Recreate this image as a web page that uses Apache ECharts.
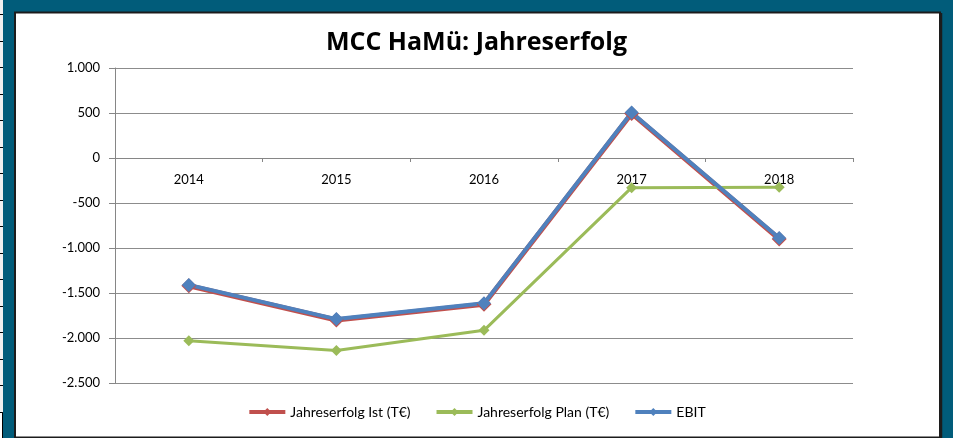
<!DOCTYPE html>
<html lang="de">
<head>
    <meta charset="UTF-8">
    <title>MCC HaMü: Jahreserfolg</title>
    <style type="text/css">
        *{ margin: 0; padding: 0; }
        #main{ width: 953px; height: 438px; }
    </style>
</head>
<body>
    <div id="main"></div>
    <script src="https://cdn.jsdelivr.net/npm/echarts@6/dist/echarts.min.js"></script>
    <script type="text/javascript">
        // Daten
        var years = ['2014', '2015', '2016', '2017', '2018'];
        var istValues = [-1420, -1800, -1625, 495, -900];
        var planValues = [-2030, -2140, -1915, -330, -325];
        var ebitValues = [-1410, -1790, -1615, 505, -890];

        var FONT = 'Lato, "Open Sans", sans-serif';

        // 1.000 / -1.500 Schreibweise
        function fmt(v) {
            var s = String(Math.abs(v));
            s = s.replace(/\B(?=(\d{3})+(?!\d))/g, '.');
            return (v < 0 ? '-' : '') + s;
        }

        // Zeilenkoepfe links (Excel-Rand)
        var deco = [
            { type: 'rect', shape: { x: 0, y: 0, width: 3, height: 438 }, style: { fill: '#f0f0f0' }, z: 0 }
        ];
        for (var yy = 14; yy < 412; yy += 26.5) {
            deco.push({ type: 'line', shape: { x1: 0, y1: Math.round(yy) + 0.5, x2: 3, y2: Math.round(yy) + 0.5 }, style: { stroke: '#000', lineWidth: 1 }, z: 1 });
        }
        deco.push({ type: 'rect', shape: { x: -1, y: 412.5, width: 3.5, height: 30 }, style: { fill: '#fff', stroke: '#000', lineWidth: 1 }, z: 1 });
        // Diagrammflaeche
        deco.push({ type: 'rect', shape: { x: 15, y: 12.5, width: 925, height: 425 }, style: { fill: '#ffffff', stroke: '#1c1c1c', lineWidth: 2 }, z: 0 });
        deco.push({ type: 'line', shape: { x1: 941.5, y1: 13, x2: 941.5, y2: 438 }, style: { stroke: '#1c1c1c', lineWidth: 1.5 }, z: 0 });

        var myChart = echarts.init(document.getElementById('main'));

        // x-Achse liegt auf der Nulllinie: Abstand vom unteren Rand des Plots
        var plotTop = 68, plotBottom = 383;
        var yMin = -2500, yMax = 1000;
        var zeroOffset = -(plotBottom - plotTop) * (0 - yMin) / (yMax - yMin);

        var option = {
            backgroundColor: '#015c7a',
            animation: false,
            graphic: { elements: deco },
            title: {
                text: 'MCC HaMü: Jahreserfolg',
                left: 'center',
                top: 25,
                textStyle: { fontFamily: '"Open Sans", Lato, sans-serif', fontSize: 25, fontWeight: 'bold', color: '#000' }
            },
            legend: {
                bottom: 14,
                left: 'center',
                itemWidth: 36,
                itemHeight: 10,
                itemGap: 24,
                lineStyle: { width: 4 },
                textStyle: { fontFamily: FONT, fontSize: 14, color: '#000' },
                data: ['Jahreserfolg Ist (T€)', 'Jahreserfolg Plan (T€)', 'EBIT']
            },
            grid: { left: 115, right: 100, top: plotTop, bottom: 438 - plotBottom },
            xAxis: {
                type: 'category',
                data: years,
                boundaryGap: true,
                offset: zeroOffset,
                axisLine: { onZero: false, lineStyle: { color: '#868686', width: 1 } },
                axisTick: { show: true, length: 4, lineStyle: { color: '#868686' } },
                axisLabel: { margin: 15, fontFamily: FONT, fontSize: 13, color: '#000' },
                splitLine: { show: false }
            },
            yAxis: {
                type: 'value',
                min: yMin,
                max: yMax,
                interval: 500,
                axisLine: { show: true, lineStyle: { color: '#868686', width: 1 } },
                axisTick: { show: true, length: 6, lineStyle: { color: '#868686' } },
                axisLabel: { margin: 15, fontFamily: FONT, fontSize: 13, color: '#000', formatter: fmt },
                splitLine: { show: true, lineStyle: { color: '#8c8c8c', width: 1 } }
            },
            series: [{
                name: 'Jahreserfolg Ist (T€)',
                type: 'line',
                data: istValues,
                symbol: 'diamond',
                symbolSize: 15,
                itemStyle: { color: '#c0504d' },
                lineStyle: { color: '#c0504d', width: 5 }
            }, {
                name: 'Jahreserfolg Plan (T€)',
                type: 'line',
                data: planValues,
                symbol: 'diamond',
                symbolSize: 11,
                itemStyle: { color: '#9bbb59' },
                lineStyle: { color: '#9bbb59', width: 3 }
            }, {
                name: 'EBIT',
                type: 'line',
                data: ebitValues,
                symbol: 'diamond',
                symbolSize: 14,
                itemStyle: { color: '#4f81bd' },
                lineStyle: { color: '#4f81bd', width: 4 }
            }]
        };

        myChart.setOption(option);
    </script>
</body>
</html>
